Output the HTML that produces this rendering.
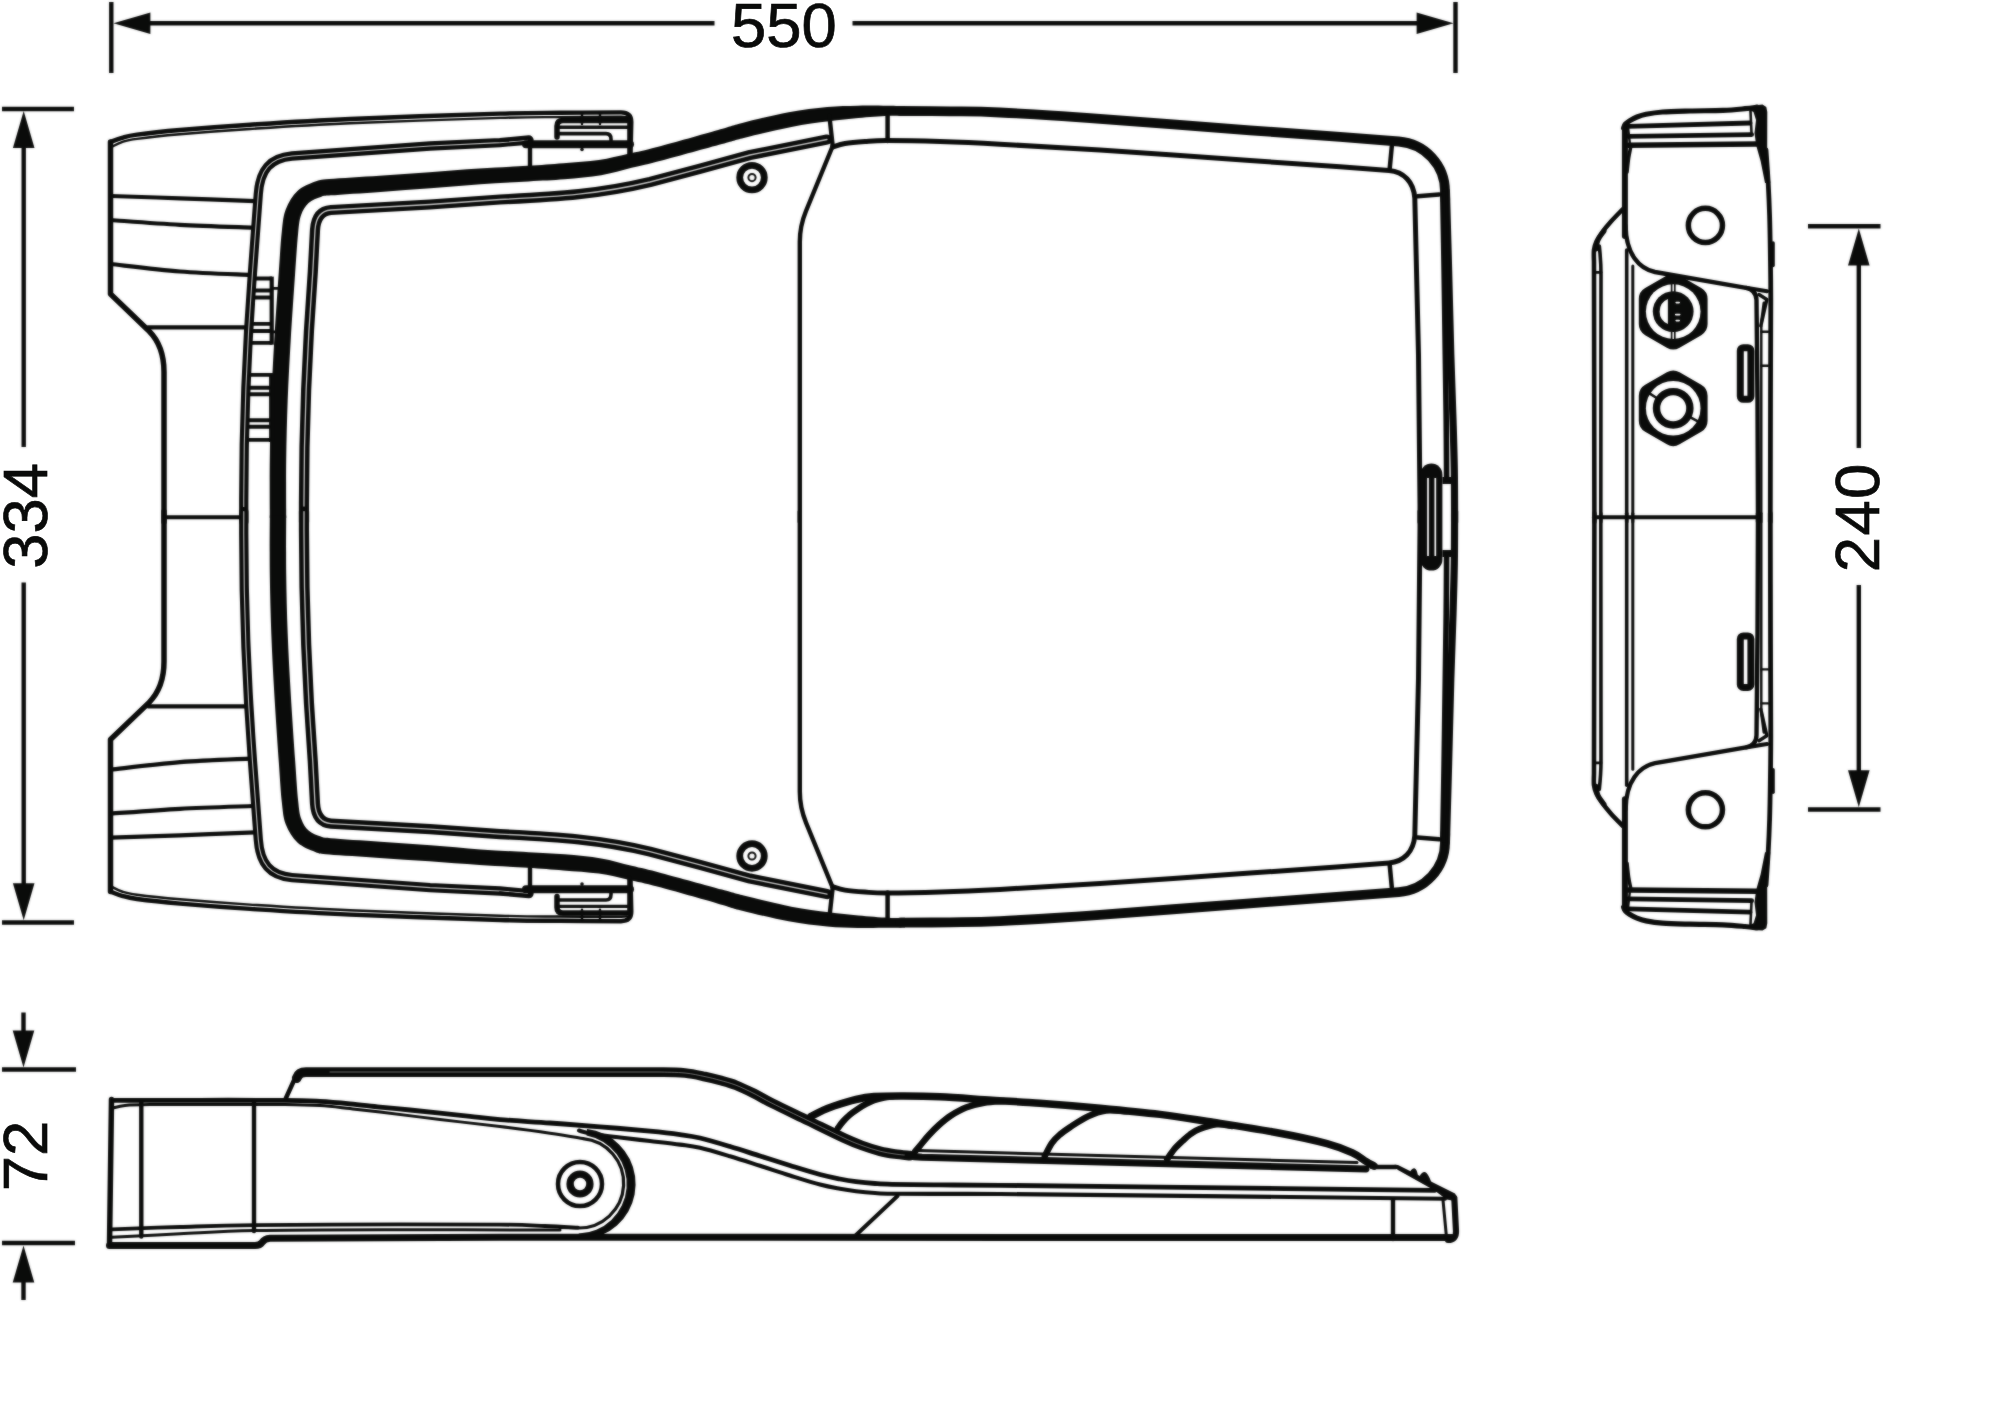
<!DOCTYPE html>
<html><head><meta charset="utf-8"><title>Dimension drawing</title>
<style>html,body{margin:0;padding:0;background:#fff;overflow:hidden;}svg{display:block;}.art{filter:blur(0.9px);}text{font-family:"Liberation Sans",sans-serif;fill:#0a0b0a;stroke:#0a0b0a;stroke-width:0.7px;}</style></head><body>
<svg width="2000" height="1421" viewBox="0 0 2000 1421">
<rect width="2000" height="1421" fill="#fff"/>
<g class="art" fill="none" stroke="#0a0b0a" stroke-linecap="round" stroke-linejoin="round">
<g stroke-width="4.4" stroke-linecap="butt">
<path d="M111.3,2 V73 M1455.5,2 V73 M150,23.3 H714.5 M852.5,23.3 H1417"/>
<path d="M2,109 H74 M2,922.5 H74 M23.7,146 V447 M23.7,582.5 V884"/>
<path d="M1808,226.3 H1880.5 M1808,809.5 H1880.5 M1858.8,264 V448 M1858.8,585 V772"/>
<path d="M2,1069.5 H76 M2,1243 H75 M23.5,1012.5 V1032 M23.5,1280 V1300"/>
</g>
<path d="M113.4,23.3 L150.4,34.1 L150.4,12.5Z" fill="#0a0b0a" stroke="none" />
<path d="M1453.6,23.3 L1416.6,12.5 L1416.6,34.1Z" fill="#0a0b0a" stroke="none" />
<path d="M23.7,111 L12.9,148 L34.5,148Z" fill="#0a0b0a" stroke="none" />
<path d="M23.7,920.3 L34.5,883.3 L12.9,883.3Z" fill="#0a0b0a" stroke="none" />
<path d="M1858.8,228.5 L1848,265.5 L1869.6,265.5Z" fill="#0a0b0a" stroke="none" />
<path d="M1858.8,807.3 L1869.6,770.3 L1848,770.3Z" fill="#0a0b0a" stroke="none" />
<path d="M23.5,1067.5 L34.3,1030.5 L12.7,1030.5Z" fill="#0a0b0a" stroke="none" />
<path d="M23.5,1245.5 L12.7,1282.5 L34.3,1282.5Z" fill="#0a0b0a" stroke="none" />
<path d="M164,522 L164,372 Q164,346 149,331 L110.5,294 L110.5,142" stroke-width="5.5" />
<path d="M110.5,142 C112.42,141.3 117.58,139.03 122,137.8 C126.42,136.57 127.33,135.9 137,134.6 C146.67,133.3 161.17,131.65 180,130 C198.83,128.35 221.67,126.53 250,124.7 C278.33,122.87 308.33,120.85 350,119 C391.67,117.15 465,114.63 500,113.6 C535,112.57 539.83,113 560,112.8 C580.17,112.6 610.83,112.47 621,112.4 Q631.3,112.4 631.3,122 L630.5,156" stroke-width="4.4" />
<path d="M111.5,147 C113.25,146.18 117.75,143.45 122,142.1 C126.25,140.75 127.33,140.2 137,138.9 C146.67,137.6 161.17,135.95 180,134.3 C198.83,132.65 221.67,130.83 250,129 C278.33,127.17 308.33,125.15 350,123.3 C391.67,121.45 465,118.93 500,117.9 C535,116.87 539.83,117.3 560,117.1 C580.17,116.9 610.83,116.77 621,116.7 L627,117.2" stroke-width="2.4" />
<path d="M111,196 C122.5,196.38 156,197.43 180,198.3 C204,199.17 242.5,200.72 255,201.2" stroke-width="4.2" />
<path d="M111,220 C122.5,220.8 156.33,223.53 180,224.8 C203.67,226.07 240.83,227.13 253,227.6" stroke-width="4.2" />
<path d="M111,264 C122.5,265.25 156.75,269.67 180,271.5 C203.25,273.33 238.75,274.42 250.5,275" stroke-width="4.2" />
<path d="M148,327.3 H247" stroke-width="4.2" />
<path d="M243.8,522 L243.8,518 C243.3,440 247,345 252.5,272 L258.3,194 C260,170 270,158 292,156 L430,146 L500,142.6 L529,140" stroke-width="9.3"/>
<path d="M243.8,522 L243.8,518 C243.3,440 247,345 252.5,272 L258.3,194 C260,170 270,158 292,156 L430,146 L500,142.6 L529,140" stroke-width="1.1" stroke="#c8c8c8"/>
<path d="M304,522 L304,518 C303.6,440 307,350 312.8,272 L315,230 Q316.2,211 331,210 L430,204.5 L500,199.5 C560,196.5 600,194 650,182 L700,168.7 L750,155 L827,139.5" stroke-width="10.2"/>
<path d="M304,522 L304,518 C303.6,440 307,350 312.8,272 L315,230 Q316.2,211 331,210 L430,204.5 L500,199.5 C560,196.5 600,194 650,182 L700,168.7 L750,155 L827,139.5" stroke-width="1.3" stroke="#c8c8c8"/>
<path d="M269.8,518 C269.8,508.32 269.55,479.61 269.8,459.9 C270.05,440.18 270.55,419.76 271.31,399.69 C272.06,379.63 273.06,360.9 274.31,339.52 C275.57,318.14 277.56,289.5 278.82,271.43 C280.08,253.36 280.68,241.5 281.85,231.12 C283.01,220.74 283.22,215.83 285.81,209.14 C288.41,202.46 292.53,195.58 297.43,190.98 C302.33,186.39 309.89,183.58 315.2,181.59 C320.51,179.6 318.57,180.01 329.28,179.03 C339.98,178.05 362.75,176.84 379.44,175.72 C396.13,174.6 412.74,173.51 429.41,172.32 C446.08,171.14 463.12,169.7 479.47,168.62 C495.82,167.53 513.54,166.73 527.52,165.81 C541.49,164.9 551.45,164.1 563.33,163.13 C575.21,162.16 587.96,161.55 598.8,159.99 C609.64,158.44 618.47,156 628.36,153.79 C638.26,151.58 643.24,150.71 658.18,146.74 C673.13,142.77 704.04,133.94 718.04,129.97 C732.04,126 730.43,125.88 742.19,122.92 C753.95,119.97 774.43,114.88 788.6,112.23 C802.76,109.59 815.68,108.13 827.19,107.05 C838.7,105.96 847.53,105.92 857.65,105.71 C867.77,105.5 880,105.72 887.9,105.8 C895.81,105.88 902.2,106.13 905.06,106.2 L904.94,115.8 C902.14,115.8 895.86,115.42 888.1,115.8 C880.33,116.18 868.23,117.16 858.35,118.09 C848.47,119.02 839.97,119.87 828.81,121.35 C817.65,122.83 805.24,124.28 791.4,126.97 C777.57,129.65 757.38,134.63 745.81,137.48 C734.24,140.32 735.96,140.2 721.96,144.03 C707.96,147.86 676.87,156.5 661.82,160.46 C646.76,164.43 641.74,165.35 631.64,167.81 C621.53,170.27 612.36,173.3 601.2,175.21 C590.04,177.12 576.79,178.24 564.67,179.27 C552.55,180.3 542.51,180.57 528.48,181.39 C514.46,182.2 496.85,183.03 480.53,184.18 C464.22,185.33 447.25,187 430.59,188.28 C413.93,189.56 397.2,190.7 380.56,191.88 C363.91,193.06 340.68,194.51 330.72,195.37 C320.76,196.22 324.49,195.73 320.8,197.01 C317.11,198.28 311.84,200.04 308.57,203.02 C305.3,205.99 302.92,209.88 301.19,214.86 C299.45,219.83 299.15,223.26 298.15,232.88 C297.15,242.5 296.42,254.64 295.18,272.57 C293.94,290.5 291.93,319.19 290.69,340.48 C289.44,361.77 288.44,380.37 287.69,400.31 C286.95,420.24 286.45,440.49 286.2,460.1 C285.95,479.72 286.2,508.35 286.2,518 Z" fill="#0a0b0a" stroke="none" />
<path d="M900,111 C908.33,111.05 933.33,111.05 950,111.3 C966.67,111.55 975,111.25 1000,112.5 C1025,113.75 1058.33,115.83 1100,118.8 C1141.67,121.77 1210,127.28 1250,130.3 C1290,133.32 1315.21,135.03 1340,136.9 C1364.79,138.77 1388.96,140.73 1398.75,141.5 A50,50 0 0 1 1445,191.4 L1445.2,200" stroke-width="9.8" />
<path d="M1446.4,191.4 C1446.77,204.5 1447.87,242.73 1448.6,270 C1449.33,297.27 1450.07,330 1450.8,355 C1451.53,380 1452.42,400.83 1453,420 C1453.58,439.17 1454.03,453 1454.3,470 C1454.57,487 1454.55,513.33 1454.6,522" stroke-width="7.2" />
<path d="M1442.7,191.4 C1442.93,204.5 1443.67,242.73 1444.1,270 C1444.53,297.27 1444.95,330 1445.3,355 C1445.65,380 1445.98,399.5 1446.2,420 C1446.42,440.5 1446.53,468.33 1446.6,478" stroke-width="5.6" stroke-linecap="butt"/>
<path d="M832.5,147 C834.58,146.42 839.58,144.42 845,143.5 C850.42,142.58 858,141.98 865,141.5 C872,141.02 874.5,140.58 887,140.6 C899.5,140.62 921.17,141 940,141.6 C958.83,142.2 973.33,142.8 1000,144.2 C1026.67,145.6 1058.33,147.28 1100,150 C1141.67,152.72 1210,157.7 1250,160.5 C1290,163.3 1316.83,165.12 1340,166.8 C1363.17,168.48 1380.83,169.97 1389,170.6 C1404,172 1413.5,182 1414.8,198 L1418.5,355 L1420,505 L1420,522" stroke-width="5" />
<path d="M829.4,116 L832.7,146 L806,211 Q799.8,226 799.8,242 L799.8,522" stroke-width="4.4" />
<path d="M887.6,114 V141" stroke-width="4.5" />
<path d="M1391.8,146.4 L1389.7,168.6" stroke-width="4.5" />
<path d="M1417.6,196.2 L1439,194.4" stroke-width="4.5" />
<circle cx="752" cy="177.6" r="12.3" stroke-width="6.8"/>
<circle cx="752" cy="177.6" r="3.6" stroke-width="2"/>
<path d="M557,137 V126 Q557,120.5 563,120.5 H629" stroke-width="5.5" />
<path d="M559,127.2 H629" stroke-width="3.4" />
<path d="M559,133.6 H606 Q611,133.6 611,139 V141" stroke-width="3.6" />
<path d="M526,144.3 H630" stroke-width="8" />
<path d="M500,141 L527,138.6" stroke-width="2.6" />
<path d="M530,140 V167" stroke-width="4.4" />
<path d="M629.3,120 V156" stroke-width="4.2" />
<path d="M582,113 V124 M600,113 V124" stroke-width="2.4" />
<circle cx="582" cy="149.5" r="1.8" fill="#0a0b0a" stroke="none"/>
<g transform="translate(0,1033.6) scale(1,-1)">
<path d="M164,522 L164,372 Q164,346 149,331 L110.5,294 L110.5,142" stroke-width="5.5" />
<path d="M110.5,142 C112.42,141.3 117.58,139.03 122,137.8 C126.42,136.57 127.33,135.9 137,134.6 C146.67,133.3 161.17,131.65 180,130 C198.83,128.35 221.67,126.53 250,124.7 C278.33,122.87 308.33,120.85 350,119 C391.67,117.15 465,114.63 500,113.6 C535,112.57 539.83,113 560,112.8 C580.17,112.6 610.83,112.47 621,112.4 Q631.3,112.4 631.3,122 L630.5,156" stroke-width="4.4" />
<path d="M111.5,147 C113.25,146.18 117.75,143.45 122,142.1 C126.25,140.75 127.33,140.2 137,138.9 C146.67,137.6 161.17,135.95 180,134.3 C198.83,132.65 221.67,130.83 250,129 C278.33,127.17 308.33,125.15 350,123.3 C391.67,121.45 465,118.93 500,117.9 C535,116.87 539.83,117.3 560,117.1 C580.17,116.9 610.83,116.77 621,116.7 L627,117.2" stroke-width="2.4" />
<path d="M111,196 C122.5,196.38 156,197.43 180,198.3 C204,199.17 242.5,200.72 255,201.2" stroke-width="4.2" />
<path d="M111,220 C122.5,220.8 156.33,223.53 180,224.8 C203.67,226.07 240.83,227.13 253,227.6" stroke-width="4.2" />
<path d="M111,264 C122.5,265.25 156.75,269.67 180,271.5 C203.25,273.33 238.75,274.42 250.5,275" stroke-width="4.2" />
<path d="M148,327.3 H247" stroke-width="4.2" />
<path d="M243.8,522 L243.8,518 C243.3,440 247,345 252.5,272 L258.3,194 C260,170 270,158 292,156 L430,146 L500,142.6 L529,140" stroke-width="9.3"/>
<path d="M243.8,522 L243.8,518 C243.3,440 247,345 252.5,272 L258.3,194 C260,170 270,158 292,156 L430,146 L500,142.6 L529,140" stroke-width="1.1" stroke="#c8c8c8"/>
<path d="M304,522 L304,518 C303.6,440 307,350 312.8,272 L315,230 Q316.2,211 331,210 L430,204.5 L500,199.5 C560,196.5 600,194 650,182 L700,168.7 L750,155 L827,139.5" stroke-width="10.2"/>
<path d="M304,522 L304,518 C303.6,440 307,350 312.8,272 L315,230 Q316.2,211 331,210 L430,204.5 L500,199.5 C560,196.5 600,194 650,182 L700,168.7 L750,155 L827,139.5" stroke-width="1.3" stroke="#c8c8c8"/>
<path d="M269.8,518 C269.8,508.32 269.55,479.61 269.8,459.9 C270.05,440.18 270.55,419.76 271.31,399.69 C272.06,379.63 273.06,360.9 274.31,339.52 C275.57,318.14 277.56,289.5 278.82,271.43 C280.08,253.36 280.68,241.5 281.85,231.12 C283.01,220.74 283.22,215.83 285.81,209.14 C288.41,202.46 292.53,195.58 297.43,190.98 C302.33,186.39 309.89,183.58 315.2,181.59 C320.51,179.6 318.57,180.01 329.28,179.03 C339.98,178.05 362.75,176.84 379.44,175.72 C396.13,174.6 412.74,173.51 429.41,172.32 C446.08,171.14 463.12,169.7 479.47,168.62 C495.82,167.53 513.54,166.73 527.52,165.81 C541.49,164.9 551.45,164.1 563.33,163.13 C575.21,162.16 587.96,161.55 598.8,159.99 C609.64,158.44 618.47,156 628.36,153.79 C638.26,151.58 643.24,150.71 658.18,146.74 C673.13,142.77 704.04,133.94 718.04,129.97 C732.04,126 730.43,125.88 742.19,122.92 C753.95,119.97 774.43,114.88 788.6,112.23 C802.76,109.59 815.68,108.13 827.19,107.05 C838.7,105.96 847.53,105.92 857.65,105.71 C867.77,105.5 880,105.72 887.9,105.8 C895.81,105.88 902.2,106.13 905.06,106.2 L904.94,115.8 C902.14,115.8 895.86,115.42 888.1,115.8 C880.33,116.18 868.23,117.16 858.35,118.09 C848.47,119.02 839.97,119.87 828.81,121.35 C817.65,122.83 805.24,124.28 791.4,126.97 C777.57,129.65 757.38,134.63 745.81,137.48 C734.24,140.32 735.96,140.2 721.96,144.03 C707.96,147.86 676.87,156.5 661.82,160.46 C646.76,164.43 641.74,165.35 631.64,167.81 C621.53,170.27 612.36,173.3 601.2,175.21 C590.04,177.12 576.79,178.24 564.67,179.27 C552.55,180.3 542.51,180.57 528.48,181.39 C514.46,182.2 496.85,183.03 480.53,184.18 C464.22,185.33 447.25,187 430.59,188.28 C413.93,189.56 397.2,190.7 380.56,191.88 C363.91,193.06 340.68,194.51 330.72,195.37 C320.76,196.22 324.49,195.73 320.8,197.01 C317.11,198.28 311.84,200.04 308.57,203.02 C305.3,205.99 302.92,209.88 301.19,214.86 C299.45,219.83 299.15,223.26 298.15,232.88 C297.15,242.5 296.42,254.64 295.18,272.57 C293.94,290.5 291.93,319.19 290.69,340.48 C289.44,361.77 288.44,380.37 287.69,400.31 C286.95,420.24 286.45,440.49 286.2,460.1 C285.95,479.72 286.2,508.35 286.2,518 Z" fill="#0a0b0a" stroke="none" />
<path d="M900,111 C908.33,111.05 933.33,111.05 950,111.3 C966.67,111.55 975,111.25 1000,112.5 C1025,113.75 1058.33,115.83 1100,118.8 C1141.67,121.77 1210,127.28 1250,130.3 C1290,133.32 1315.21,135.03 1340,136.9 C1364.79,138.77 1388.96,140.73 1398.75,141.5 A50,50 0 0 1 1445,191.4 L1445.2,200" stroke-width="9.8" />
<path d="M1446.4,191.4 C1446.77,204.5 1447.87,242.73 1448.6,270 C1449.33,297.27 1450.07,330 1450.8,355 C1451.53,380 1452.42,400.83 1453,420 C1453.58,439.17 1454.03,453 1454.3,470 C1454.57,487 1454.55,513.33 1454.6,522" stroke-width="7.2" />
<path d="M1442.7,191.4 C1442.93,204.5 1443.67,242.73 1444.1,270 C1444.53,297.27 1444.95,330 1445.3,355 C1445.65,380 1445.98,399.5 1446.2,420 C1446.42,440.5 1446.53,468.33 1446.6,478" stroke-width="5.6" stroke-linecap="butt"/>
<path d="M832.5,147 C834.58,146.42 839.58,144.42 845,143.5 C850.42,142.58 858,141.98 865,141.5 C872,141.02 874.5,140.58 887,140.6 C899.5,140.62 921.17,141 940,141.6 C958.83,142.2 973.33,142.8 1000,144.2 C1026.67,145.6 1058.33,147.28 1100,150 C1141.67,152.72 1210,157.7 1250,160.5 C1290,163.3 1316.83,165.12 1340,166.8 C1363.17,168.48 1380.83,169.97 1389,170.6 C1404,172 1413.5,182 1414.8,198 L1418.5,355 L1420,505 L1420,522" stroke-width="5" />
<path d="M829.4,116 L832.7,146 L806,211 Q799.8,226 799.8,242 L799.8,522" stroke-width="4.4" />
<path d="M887.6,114 V141" stroke-width="4.5" />
<path d="M1391.8,146.4 L1389.7,168.6" stroke-width="4.5" />
<path d="M1417.6,196.2 L1439,194.4" stroke-width="4.5" />
<circle cx="752" cy="177.6" r="12.3" stroke-width="6.8"/>
<circle cx="752" cy="177.6" r="3.6" stroke-width="2"/>
<path d="M557,137 V126 Q557,120.5 563,120.5 H629" stroke-width="5.5" />
<path d="M559,127.2 H629" stroke-width="3.4" />
<path d="M559,133.6 H606 Q611,133.6 611,139 V141" stroke-width="3.6" />
<path d="M526,144.3 H630" stroke-width="8" />
<path d="M500,141 L527,138.6" stroke-width="2.6" />
<path d="M530,140 V167" stroke-width="4.4" />
<path d="M629.3,120 V156" stroke-width="4.2" />
<path d="M582,113 V124 M600,113 V124" stroke-width="2.4" />
<circle cx="582" cy="149.5" r="1.8" fill="#0a0b0a" stroke="none"/>
</g>
<path d="M164,517.3 H240" stroke-width="4" />
<path d="M250,374.9 H272 M250,387.8 H272 M250,394.2 H272 M249,420.3 H272 M249,426.8 H272 M248.5,439.9 H272" stroke-width="3.9" stroke-linecap="butt"/>
<path d="M271.6,373 V442" stroke-width="5" stroke-linecap="butt"/>
<path d="M255.5,278.5 H272 M255,290.5 H272 M254.5,297.5 H272 M253,323.9 H272 M252.5,331 H272 M252,342.8 H272" stroke-width="3.8" stroke-linecap="butt"/>
<path d="M271.7,276.6 V344.7" stroke-width="4.2" stroke-linecap="butt"/>
<path d="M273,288.3 H280 M273,331.8 H277" stroke-width="2.8" stroke-linecap="butt"/>
<rect x="1420.4" y="463.6" width="22" height="107" rx="11" ry="11" fill="#0a0b0a" stroke="none"/>
<path d="M1428,478 V556 M1435.3,478 V556" stroke="#fff" stroke-width="1.7" stroke-linecap="butt"/>
<path d="M1442.4,480.5 H1457.6 M1442.4,553.4 H1457.6" stroke-width="7" stroke-linecap="butt"/>
<path d="M1623.6,128 C1623.92,127.33 1624.52,125.18 1625.5,124 C1626.48,122.82 1627.58,122.07 1629.5,120.9 C1631.42,119.73 1634.25,118.1 1637,117 C1639.75,115.9 1641.75,115.13 1646,114.3 C1650.25,113.47 1655.17,112.55 1662.5,112 C1669.83,111.45 1679.92,111.27 1690,111 C1700.08,110.73 1713.83,110.78 1723,110.4 C1732.17,110.02 1739.33,109.23 1745,108.7 C1750.67,108.17 1755,107.45 1757,107.2" stroke-width="5.2" />
<path d="M1624.9,127 V236" stroke-width="6" />
<path d="M1626.7,250 V522" stroke-width="3.6" />
<path d="M1628.5,126.4 L1750,123" stroke-width="4.8" />
<path d="M1628.5,136.3 L1751.6,134.6" stroke-width="4.8" />
<path d="M1628.5,145.2 L1756,144" stroke-width="5.6" />
<path d="M1628,127 L1630,145" stroke-width="2.4" />
<path d="M1748.5,109.6 L1758,105 L1762.5,104.6 L1766.3,107 L1767.3,112 L1767.2,150 L1770.3,183 L1765,183 L1760.6,161 L1756.2,145.5 L1754.5,133 L1756,120 L1753.5,112Z" fill="#0a0b0a" stroke="none" />
<path d="M1750.5,111 L1751.5,133" stroke-width="2.6" />
<path d="M1766,150 C1766.37,155.5 1767.6,172 1768.2,183 C1768.8,194 1769.25,204.67 1769.6,216 C1769.95,227.33 1770.1,237 1770.3,251 C1770.5,265 1770.77,275.17 1770.8,300 C1770.83,324.83 1770.58,363 1770.5,400 C1770.42,437 1770.33,501.67 1770.3,522" stroke-width="4.8" />
<path d="M1630.6,147.5 C1630.27,149.25 1629.2,153.92 1628.6,158 C1628,162.08 1627.27,169.67 1627,172" stroke-width="3.6" />
<path d="M1625.6,226 C1626,254 1639,268.5 1655,272 L1746,287.8 Q1756.3,290 1756.5,300 L1757.5,400 L1758,522" stroke-width="4.4" />
<path d="M1746,287.8 L1767,291.2" stroke-width="4.2" />
<path d="M1759,294.5 L1766.8,299.5 L1760.8,326" stroke-width="3.4" />
<path d="M1764,303 L1761.5,322" stroke-width="3" />
<path d="M1761.3,326 V522" stroke-width="2.4" />
<path d="M1761.3,331.8 H1768 M1761.3,365.8 H1768" stroke-width="2.4" />
<circle cx="1705.4" cy="225.4" r="17.05" stroke-width="5.5"/>
<path d="M1622.5,209.5 C1620.58,211.5 1614.42,217.67 1611,221.5 C1607.58,225.33 1604.42,229.17 1602,232.5 C1599.58,235.83 1597.83,238.58 1596.5,241.5 C1595.17,244.42 1594.42,246.58 1594,250 C1593.58,253.42 1594,260 1594,262 L1594.4,522" stroke-width="4.6" />
<path d="M1604,231 C1603,232.5 1599.33,237 1598,240 C1596.67,243 1596.33,247.5 1596,249" stroke-width="5" />
<path d="M1599.3,246 Q1601,262 1601,274 L1600.8,522" stroke-width="3.6" />
<path d="M1594,272.3 H1601" stroke-width="2.8" />
<path d="M1632.8,266 V522" stroke-width="3" />
<path d="M1773,243 V265.5" stroke-width="3.6" />
<rect x="1740.3" y="347.7" width="10.6" height="51.6" rx="3" stroke-width="7"/>
<g transform="translate(0,1035.2) scale(1,-1)">
<path d="M1623.6,128 C1623.92,127.33 1624.52,125.18 1625.5,124 C1626.48,122.82 1627.58,122.07 1629.5,120.9 C1631.42,119.73 1634.25,118.1 1637,117 C1639.75,115.9 1641.75,115.13 1646,114.3 C1650.25,113.47 1655.17,112.55 1662.5,112 C1669.83,111.45 1679.92,111.27 1690,111 C1700.08,110.73 1713.83,110.78 1723,110.4 C1732.17,110.02 1739.33,109.23 1745,108.7 C1750.67,108.17 1755,107.45 1757,107.2" stroke-width="5.2" />
<path d="M1624.9,127 V236" stroke-width="6" />
<path d="M1626.7,250 V522" stroke-width="3.6" />
<path d="M1628.5,126.4 L1750,123" stroke-width="4.8" />
<path d="M1628.5,136.3 L1751.6,134.6" stroke-width="4.8" />
<path d="M1628.5,145.2 L1756,144" stroke-width="5.6" />
<path d="M1628,127 L1630,145" stroke-width="2.4" />
<path d="M1748.5,109.6 L1758,105 L1762.5,104.6 L1766.3,107 L1767.3,112 L1767.2,150 L1770.3,183 L1765,183 L1760.6,161 L1756.2,145.5 L1754.5,133 L1756,120 L1753.5,112Z" fill="#0a0b0a" stroke="none" />
<path d="M1750.5,111 L1751.5,133" stroke-width="2.6" />
<path d="M1766,150 C1766.37,155.5 1767.6,172 1768.2,183 C1768.8,194 1769.25,204.67 1769.6,216 C1769.95,227.33 1770.1,237 1770.3,251 C1770.5,265 1770.77,275.17 1770.8,300 C1770.83,324.83 1770.58,363 1770.5,400 C1770.42,437 1770.33,501.67 1770.3,522" stroke-width="4.8" />
<path d="M1630.6,147.5 C1630.27,149.25 1629.2,153.92 1628.6,158 C1628,162.08 1627.27,169.67 1627,172" stroke-width="3.6" />
<path d="M1625.6,226 C1626,254 1639,268.5 1655,272 L1746,287.8 Q1756.3,290 1756.5,300 L1757.5,400 L1758,522" stroke-width="4.4" />
<path d="M1746,287.8 L1767,291.2" stroke-width="4.2" />
<path d="M1759,294.5 L1766.8,299.5 L1760.8,326" stroke-width="3.4" />
<path d="M1764,303 L1761.5,322" stroke-width="3" />
<path d="M1761.3,326 V522" stroke-width="2.4" />
<path d="M1761.3,331.8 H1768 M1761.3,365.8 H1768" stroke-width="2.4" />
<circle cx="1705.4" cy="225.4" r="17.05" stroke-width="5.5"/>
<path d="M1622.5,209.5 C1620.58,211.5 1614.42,217.67 1611,221.5 C1607.58,225.33 1604.42,229.17 1602,232.5 C1599.58,235.83 1597.83,238.58 1596.5,241.5 C1595.17,244.42 1594.42,246.58 1594,250 C1593.58,253.42 1594,260 1594,262 L1594.4,522" stroke-width="4.6" />
<path d="M1604,231 C1603,232.5 1599.33,237 1598,240 C1596.67,243 1596.33,247.5 1596,249" stroke-width="5" />
<path d="M1599.3,246 Q1601,262 1601,274 L1600.8,522" stroke-width="3.6" />
<path d="M1594,272.3 H1601" stroke-width="2.8" />
<path d="M1632.8,266 V522" stroke-width="3" />
<path d="M1773,243 V265.5" stroke-width="3.6" />
<rect x="1740.3" y="347.7" width="10.6" height="51.6" rx="3" stroke-width="7"/>
</g>
<path d="M1594,517.3 H1757.5" stroke-width="4" />
<path d="M1673.2,286.6 L1651.55,299.1 L1651.55,324.1 L1673.2,336.6 L1694.85,324.1 L1694.85,299.1Z" fill="#0a0b0a" stroke="#0a0b0a" stroke-width="25.5" stroke-linejoin="round"/>
<circle cx="1673.2" cy="311.6" r="27.3" fill="#fff" stroke="none"/>
<circle cx="1673.2" cy="311.6" r="20.4" fill="#0a0b0a" stroke="none"/>
<path d="M1667.9,299.1 A13.6,13.6 0 0 0 1667.9,324.1 Z" fill="#fff" stroke="none"/>
<path d="M1671.6,284.1 V339.1 M1674.8,284.1 V339.1" stroke-width="1.7"/>
<path d="M1676.2,302.6 h3 M1675.7,314.6 h4 M1676.2,320.6 h3" stroke="#fff" stroke-width="1.6"/>
<path d="M1673.2,383.3 L1651.55,395.8 L1651.55,420.8 L1673.2,433.3 L1694.85,420.8 L1694.85,395.8Z" fill="#0a0b0a" stroke="#0a0b0a" stroke-width="25.5" stroke-linejoin="round"/>
<circle cx="1673.2" cy="408.3" r="27.3" fill="#fff" stroke="none"/>
<circle cx="1673.2" cy="408.3" r="16.7" stroke-width="7.4"/>
<path d="M1657.09,398.23 L1649.03,393.2" stroke-width="2.6"/>
<path d="M1689.98,417.22 L1698.36,421.68" stroke-width="2.6"/>
<path d="M111.5,1099.5 L109.5,1245.5" stroke-width="5.5" />
<path d="M111.5,1100.3 C126.25,1100.3 171.08,1100.3 200,1100.3 C228.92,1100.3 265,1100.12 285,1100.3 C305,1100.48 309.17,1100.82 320,1101.4 C330.83,1101.98 340,1102.85 350,1103.8 C360,1104.75 370,1106.07 380,1107.1 C390,1108.13 400,1109 410,1110 C420,1111 430,1112.03 440,1113.1 C450,1114.17 460,1115.32 470,1116.4 C480,1117.48 486.67,1118.5 500,1119.6 C513.33,1120.7 533.33,1121.8 550,1123 C566.67,1124.2 583.33,1125.43 600,1126.8 C616.67,1128.17 636.67,1129.9 650,1131.2 C663.33,1132.5 671.67,1133.47 680,1134.6 C688.33,1135.73 691.67,1136.02 700,1138 C708.33,1139.98 720,1143.5 730,1146.5 C740,1149.5 750,1152.83 760,1156 C770,1159.17 780,1162.42 790,1165.5 C800,1168.58 811.67,1172.25 820,1174.5 C828.33,1176.75 834,1177.82 840,1179 C846,1180.18 850.17,1180.85 856,1181.6 C861.83,1182.35 869,1183.05 875,1183.5 C881,1183.95 881.17,1184.07 892,1184.3 C902.83,1184.53 922,1184.73 940,1184.9 C958,1185.07 963.33,1184.92 1000,1185.3 C1036.67,1185.68 1087.5,1186.37 1160,1187.2 C1232.5,1188.03 1389.17,1189.78 1435,1190.3" stroke-width="4.8" />
<path d="M113,1108 C115,1107.58 118.83,1106.07 125,1105.5 C131.17,1104.93 137.5,1104.75 150,1104.6 C162.5,1104.45 177.5,1104.6 200,1104.6 C222.5,1104.6 265,1104.43 285,1104.6 C305,1104.77 309.17,1104.93 320,1105.6 C330.83,1106.27 340,1107.53 350,1108.6 C360,1109.67 365,1110.18 380,1112 C395,1113.82 420,1117.08 440,1119.5 C460,1121.92 481.67,1124.22 500,1126.5 C518.33,1128.78 536.17,1131.18 550,1133.2 C563.83,1135.22 577.5,1137.7 583,1138.6" stroke-width="3" />
<path d="M141.3,1101 V1236.5" stroke-width="4.4" />
<path d="M254,1101 V1231" stroke-width="4.4" />
<path d="M109.5,1245.5 H255 Q260,1245.5 262,1242.5 Q264.5,1238.6 270,1238.2 L500,1237.3 L1452,1237.5" stroke-width="7" />
<path d="M112,1229.3 C123.33,1228.92 156.17,1227.68 180,1227 C203.83,1226.32 218.33,1225.65 255,1225.2 C291.67,1224.75 359.17,1224.4 400,1224.3 C440.83,1224.2 475.83,1224.32 500,1224.6 C524.17,1224.88 532,1225.5 545,1226 C558,1226.5 572.5,1227.33 578,1227.6" stroke-width="3.8" />
<path d="M112,1237.2 C123.33,1236.63 156.17,1234.9 180,1233.8 C203.83,1232.7 218.33,1231.27 255,1230.6 C291.67,1229.93 349.17,1229.9 400,1229.8 C450.83,1229.7 533.33,1229.97 560,1230" stroke-width="3" />
<path d="M285.8,1098.4 L296,1076" stroke-width="4.6" />
<path d="M296.8,1078 Q298.8,1072.2 306,1072.2 L660,1072.2 C664.17,1072.17 677.5,1072.23 685,1073 C692.5,1073.77 699.17,1075.38 705,1076.6 C710.83,1077.82 714.83,1078.87 720,1080.3 C725.17,1081.73 730.33,1083 736,1085.2 C741.67,1087.4 748,1090.5 754,1093.5 C760,1096.5 763,1098.68 772,1103.2 C781,1107.72 796,1114.8 808,1120.6 C820,1126.4 835,1133.85 844,1138 C853,1142.15 856,1143.3 862,1145.5 C868,1147.7 874.5,1149.78 880,1151.2 C885.5,1152.62 890,1153.27 895,1154 C900,1154.73 907.5,1155.33 910,1155.6" stroke-width="9.8"/>
<path d="M330,1072 L660,1072 C664.17,1072.17 677.5,1072.23 685,1073 C692.5,1073.77 699.17,1075.38 705,1076.6 C710.83,1077.82 714.83,1078.87 720,1080.3 C725.17,1081.73 730.33,1083 736,1085.2 C741.67,1087.4 748,1090.5 754,1093.5 C760,1096.5 763,1098.68 772,1103.2 C781,1107.72 796,1114.8 808,1120.6 C820,1126.4 835,1133.85 844,1138 C853,1142.15 856,1143.3 862,1145.5 C868,1147.7 874.5,1149.78 880,1151.2 C885.5,1152.62 890,1153.27 895,1154 C900,1154.73 907.5,1155.33 910,1155.6" stroke-width="0.7" stroke="#9a9a9a"/>
<path d="M908,1155.8 Q914,1156.8 922,1157.3 L1366,1169" stroke-width="7" />
<path d="M918,1150.6 L1357,1162.6" stroke-width="3" />
<path d="M579,1130.6 C581.17,1131.12 585.17,1132.55 592,1133.7 C598.83,1134.85 610.33,1136.28 620,1137.5 C629.67,1138.72 640,1139.82 650,1141 C660,1142.18 671.67,1143.47 680,1144.6 C688.33,1145.73 691.67,1145.85 700,1147.8 C708.33,1149.75 720,1153.3 730,1156.3 C740,1159.3 750,1162.6 760,1165.8 C770,1169 780,1172.37 790,1175.5 C800,1178.63 811.67,1182.38 820,1184.6 C828.33,1186.82 834,1187.7 840,1188.8 C846,1189.9 850.17,1190.5 856,1191.2 C861.83,1191.9 869,1192.58 875,1193 C881,1193.42 881.17,1193.55 892,1193.7 C902.83,1193.85 922,1193.85 940,1193.9 C958,1193.95 963.33,1193.72 1000,1194 C1036.67,1194.28 1085.83,1194.8 1160,1195.6 C1234.17,1196.4 1397.5,1198.27 1445,1198.8" stroke-width="4.1" />
<path d="M587,1128.9 A55.5,55.5 0 0 1 601.7,1235.1 L578.7,1235 L578.7,1233.5 A49.5,49.5 0 0 0 586.5,1135.4 Z" fill="#0a0b0a" stroke="none" />
<path d="M583,1138.6 A44.8,44.8 0 0 1 578,1228 L560,1227.4" stroke-width="3.2" />
<circle cx="580" cy="1184" r="22" stroke-width="4.5"/>
<circle cx="580" cy="1184" r="9.9" stroke-width="7.4"/>
<path d="M855,1236 L897.5,1196" stroke-width="4" />
<path d="M811,1116.4 C812.83,1115.47 818.17,1112.53 822,1110.8 C825.83,1109.07 828.33,1107.88 834,1106 C839.67,1104.12 849.33,1101.07 856,1099.5 C862.67,1097.93 866,1097.18 874,1096.6 C882,1096.02 893,1095.97 904,1096 C915,1096.03 925.33,1096.1 940,1096.8 C954.67,1097.5 975.33,1099.13 992,1100.2 C1008.67,1101.27 1022,1101.87 1040,1103.2 C1058,1104.53 1080,1106.33 1100,1108.2 C1120,1110.07 1142,1112.18 1160,1114.4 C1178,1116.62 1188.67,1118.48 1208,1121.5 C1227.33,1124.52 1256.17,1128.82 1276,1132.5 C1295.83,1136.18 1314.25,1140.2 1327,1143.6 C1339.75,1147 1346,1149.93 1352.5,1152.9 C1359,1155.87 1362.42,1159.22 1366,1161.4 C1369.58,1163.58 1372.67,1165.23 1374,1166" stroke-width="7.5" />
<path d="M838,1128 C838.83,1126.92 841,1123.73 843,1121.5 C845,1119.27 847.5,1116.72 850,1114.6 C852.5,1112.48 855.33,1110.57 858,1108.8 C860.67,1107.03 863.33,1105.42 866,1104 C868.67,1102.58 871,1101.37 874,1100.3 C877,1099.23 880.83,1098.27 884,1097.6 C887.17,1096.93 891.5,1096.52 893,1096.3" stroke-width="6.4" />
<path d="M915,1151.5 C916,1150.33 918.67,1147.25 921,1144.5 C923.33,1141.75 926,1138.25 929,1135 C932,1131.75 935.33,1128.25 939,1125 C942.67,1121.75 946.5,1118.42 951,1115.5 C955.5,1112.58 960.5,1109.62 966,1107.5 C971.5,1105.38 977.67,1103.88 984,1102.8 C990.33,1101.72 1000.67,1101.3 1004,1101" stroke-width="6.4" />
<path d="M1044.8,1156 C1046,1153.8 1049.47,1146.38 1052,1142.8 C1054.53,1139.22 1057,1137.1 1060,1134.5 C1063,1131.9 1065.33,1130.22 1070,1127.2 C1074.67,1124.18 1082,1119.17 1088,1116.4 C1094,1113.63 1099.67,1111.45 1106,1110.6 C1112.33,1109.75 1122.67,1111.18 1126,1111.3" stroke-width="6.4" />
<path d="M1167.2,1159 C1168.33,1157.42 1171.45,1152.5 1174,1149.5 C1176.55,1146.5 1179.83,1143.5 1182.5,1141 C1185.17,1138.5 1187.17,1136.48 1190,1134.5 C1192.83,1132.52 1195.08,1130.78 1199.5,1129.1 C1203.92,1127.42 1211.08,1124.92 1216.5,1124.4 C1221.92,1123.88 1229.42,1125.73 1232,1126" stroke-width="6.4" />
<path d="M1372,1167 H1396" stroke-width="4.6" />
<path d="M1394.5,1164.8 L1398,1164.9 L1455,1193.4 L1457.3,1197.5 L1452,1200.6 L1446.5,1199.4 L1434.6,1190.6 L1397.5,1169.8 Z" fill="#0a0b0a" stroke="none" />
<path d="M1410,1172 Q1412,1168 1414.8,1168.4 Q1417,1169 1418,1176 Z M1419.5,1176.5 Q1421.6,1171.6 1425,1172 Q1428,1173 1431.5,1182.5 Z" fill="#0a0b0a" stroke="none" />
<path d="M1454.3,1198 L1456,1231 Q1456.4,1239.8 1448,1240" stroke-width="6.2" />
<path d="M1393,1200.5 V1239" stroke-width="4.4" />
<path d="M1443,1200 L1446.6,1238.5" stroke-width="3" />
</g>
<g opacity="0.5"><rect width="2000" height="1421" fill="#fff"/><g fill="none" stroke="#0a0b0a" stroke-linecap="round" stroke-linejoin="round">
<g stroke-width="4.4" stroke-linecap="butt">
<path d="M111.3,2 V73 M1455.5,2 V73 M150,23.3 H714.5 M852.5,23.3 H1417"/>
<path d="M2,109 H74 M2,922.5 H74 M23.7,146 V447 M23.7,582.5 V884"/>
<path d="M1808,226.3 H1880.5 M1808,809.5 H1880.5 M1858.8,264 V448 M1858.8,585 V772"/>
<path d="M2,1069.5 H76 M2,1243 H75 M23.5,1012.5 V1032 M23.5,1280 V1300"/>
</g>
<path d="M113.4,23.3 L150.4,34.1 L150.4,12.5Z" fill="#0a0b0a" stroke="none" />
<path d="M1453.6,23.3 L1416.6,12.5 L1416.6,34.1Z" fill="#0a0b0a" stroke="none" />
<path d="M23.7,111 L12.9,148 L34.5,148Z" fill="#0a0b0a" stroke="none" />
<path d="M23.7,920.3 L34.5,883.3 L12.9,883.3Z" fill="#0a0b0a" stroke="none" />
<path d="M1858.8,228.5 L1848,265.5 L1869.6,265.5Z" fill="#0a0b0a" stroke="none" />
<path d="M1858.8,807.3 L1869.6,770.3 L1848,770.3Z" fill="#0a0b0a" stroke="none" />
<path d="M23.5,1067.5 L34.3,1030.5 L12.7,1030.5Z" fill="#0a0b0a" stroke="none" />
<path d="M23.5,1245.5 L12.7,1282.5 L34.3,1282.5Z" fill="#0a0b0a" stroke="none" />
<path d="M164,522 L164,372 Q164,346 149,331 L110.5,294 L110.5,142" stroke-width="5.5" />
<path d="M110.5,142 C112.42,141.3 117.58,139.03 122,137.8 C126.42,136.57 127.33,135.9 137,134.6 C146.67,133.3 161.17,131.65 180,130 C198.83,128.35 221.67,126.53 250,124.7 C278.33,122.87 308.33,120.85 350,119 C391.67,117.15 465,114.63 500,113.6 C535,112.57 539.83,113 560,112.8 C580.17,112.6 610.83,112.47 621,112.4 Q631.3,112.4 631.3,122 L630.5,156" stroke-width="4.4" />
<path d="M111.5,147 C113.25,146.18 117.75,143.45 122,142.1 C126.25,140.75 127.33,140.2 137,138.9 C146.67,137.6 161.17,135.95 180,134.3 C198.83,132.65 221.67,130.83 250,129 C278.33,127.17 308.33,125.15 350,123.3 C391.67,121.45 465,118.93 500,117.9 C535,116.87 539.83,117.3 560,117.1 C580.17,116.9 610.83,116.77 621,116.7 L627,117.2" stroke-width="2.4" />
<path d="M111,196 C122.5,196.38 156,197.43 180,198.3 C204,199.17 242.5,200.72 255,201.2" stroke-width="4.2" />
<path d="M111,220 C122.5,220.8 156.33,223.53 180,224.8 C203.67,226.07 240.83,227.13 253,227.6" stroke-width="4.2" />
<path d="M111,264 C122.5,265.25 156.75,269.67 180,271.5 C203.25,273.33 238.75,274.42 250.5,275" stroke-width="4.2" />
<path d="M148,327.3 H247" stroke-width="4.2" />
<path d="M243.8,522 L243.8,518 C243.3,440 247,345 252.5,272 L258.3,194 C260,170 270,158 292,156 L430,146 L500,142.6 L529,140" stroke-width="9.3"/>
<path d="M243.8,522 L243.8,518 C243.3,440 247,345 252.5,272 L258.3,194 C260,170 270,158 292,156 L430,146 L500,142.6 L529,140" stroke-width="1.1" stroke="#c8c8c8"/>
<path d="M304,522 L304,518 C303.6,440 307,350 312.8,272 L315,230 Q316.2,211 331,210 L430,204.5 L500,199.5 C560,196.5 600,194 650,182 L700,168.7 L750,155 L827,139.5" stroke-width="10.2"/>
<path d="M304,522 L304,518 C303.6,440 307,350 312.8,272 L315,230 Q316.2,211 331,210 L430,204.5 L500,199.5 C560,196.5 600,194 650,182 L700,168.7 L750,155 L827,139.5" stroke-width="1.3" stroke="#c8c8c8"/>
<path d="M269.8,518 C269.8,508.32 269.55,479.61 269.8,459.9 C270.05,440.18 270.55,419.76 271.31,399.69 C272.06,379.63 273.06,360.9 274.31,339.52 C275.57,318.14 277.56,289.5 278.82,271.43 C280.08,253.36 280.68,241.5 281.85,231.12 C283.01,220.74 283.22,215.83 285.81,209.14 C288.41,202.46 292.53,195.58 297.43,190.98 C302.33,186.39 309.89,183.58 315.2,181.59 C320.51,179.6 318.57,180.01 329.28,179.03 C339.98,178.05 362.75,176.84 379.44,175.72 C396.13,174.6 412.74,173.51 429.41,172.32 C446.08,171.14 463.12,169.7 479.47,168.62 C495.82,167.53 513.54,166.73 527.52,165.81 C541.49,164.9 551.45,164.1 563.33,163.13 C575.21,162.16 587.96,161.55 598.8,159.99 C609.64,158.44 618.47,156 628.36,153.79 C638.26,151.58 643.24,150.71 658.18,146.74 C673.13,142.77 704.04,133.94 718.04,129.97 C732.04,126 730.43,125.88 742.19,122.92 C753.95,119.97 774.43,114.88 788.6,112.23 C802.76,109.59 815.68,108.13 827.19,107.05 C838.7,105.96 847.53,105.92 857.65,105.71 C867.77,105.5 880,105.72 887.9,105.8 C895.81,105.88 902.2,106.13 905.06,106.2 L904.94,115.8 C902.14,115.8 895.86,115.42 888.1,115.8 C880.33,116.18 868.23,117.16 858.35,118.09 C848.47,119.02 839.97,119.87 828.81,121.35 C817.65,122.83 805.24,124.28 791.4,126.97 C777.57,129.65 757.38,134.63 745.81,137.48 C734.24,140.32 735.96,140.2 721.96,144.03 C707.96,147.86 676.87,156.5 661.82,160.46 C646.76,164.43 641.74,165.35 631.64,167.81 C621.53,170.27 612.36,173.3 601.2,175.21 C590.04,177.12 576.79,178.24 564.67,179.27 C552.55,180.3 542.51,180.57 528.48,181.39 C514.46,182.2 496.85,183.03 480.53,184.18 C464.22,185.33 447.25,187 430.59,188.28 C413.93,189.56 397.2,190.7 380.56,191.88 C363.91,193.06 340.68,194.51 330.72,195.37 C320.76,196.22 324.49,195.73 320.8,197.01 C317.11,198.28 311.84,200.04 308.57,203.02 C305.3,205.99 302.92,209.88 301.19,214.86 C299.45,219.83 299.15,223.26 298.15,232.88 C297.15,242.5 296.42,254.64 295.18,272.57 C293.94,290.5 291.93,319.19 290.69,340.48 C289.44,361.77 288.44,380.37 287.69,400.31 C286.95,420.24 286.45,440.49 286.2,460.1 C285.95,479.72 286.2,508.35 286.2,518 Z" fill="#0a0b0a" stroke="none" />
<path d="M900,111 C908.33,111.05 933.33,111.05 950,111.3 C966.67,111.55 975,111.25 1000,112.5 C1025,113.75 1058.33,115.83 1100,118.8 C1141.67,121.77 1210,127.28 1250,130.3 C1290,133.32 1315.21,135.03 1340,136.9 C1364.79,138.77 1388.96,140.73 1398.75,141.5 A50,50 0 0 1 1445,191.4 L1445.2,200" stroke-width="9.8" />
<path d="M1446.4,191.4 C1446.77,204.5 1447.87,242.73 1448.6,270 C1449.33,297.27 1450.07,330 1450.8,355 C1451.53,380 1452.42,400.83 1453,420 C1453.58,439.17 1454.03,453 1454.3,470 C1454.57,487 1454.55,513.33 1454.6,522" stroke-width="7.2" />
<path d="M1442.7,191.4 C1442.93,204.5 1443.67,242.73 1444.1,270 C1444.53,297.27 1444.95,330 1445.3,355 C1445.65,380 1445.98,399.5 1446.2,420 C1446.42,440.5 1446.53,468.33 1446.6,478" stroke-width="5.6" stroke-linecap="butt"/>
<path d="M832.5,147 C834.58,146.42 839.58,144.42 845,143.5 C850.42,142.58 858,141.98 865,141.5 C872,141.02 874.5,140.58 887,140.6 C899.5,140.62 921.17,141 940,141.6 C958.83,142.2 973.33,142.8 1000,144.2 C1026.67,145.6 1058.33,147.28 1100,150 C1141.67,152.72 1210,157.7 1250,160.5 C1290,163.3 1316.83,165.12 1340,166.8 C1363.17,168.48 1380.83,169.97 1389,170.6 C1404,172 1413.5,182 1414.8,198 L1418.5,355 L1420,505 L1420,522" stroke-width="5" />
<path d="M829.4,116 L832.7,146 L806,211 Q799.8,226 799.8,242 L799.8,522" stroke-width="4.4" />
<path d="M887.6,114 V141" stroke-width="4.5" />
<path d="M1391.8,146.4 L1389.7,168.6" stroke-width="4.5" />
<path d="M1417.6,196.2 L1439,194.4" stroke-width="4.5" />
<circle cx="752" cy="177.6" r="12.3" stroke-width="6.8"/>
<circle cx="752" cy="177.6" r="3.6" stroke-width="2"/>
<path d="M557,137 V126 Q557,120.5 563,120.5 H629" stroke-width="5.5" />
<path d="M559,127.2 H629" stroke-width="3.4" />
<path d="M559,133.6 H606 Q611,133.6 611,139 V141" stroke-width="3.6" />
<path d="M526,144.3 H630" stroke-width="8" />
<path d="M500,141 L527,138.6" stroke-width="2.6" />
<path d="M530,140 V167" stroke-width="4.4" />
<path d="M629.3,120 V156" stroke-width="4.2" />
<path d="M582,113 V124 M600,113 V124" stroke-width="2.4" />
<circle cx="582" cy="149.5" r="1.8" fill="#0a0b0a" stroke="none"/>
<g transform="translate(0,1033.6) scale(1,-1)">
<path d="M164,522 L164,372 Q164,346 149,331 L110.5,294 L110.5,142" stroke-width="5.5" />
<path d="M110.5,142 C112.42,141.3 117.58,139.03 122,137.8 C126.42,136.57 127.33,135.9 137,134.6 C146.67,133.3 161.17,131.65 180,130 C198.83,128.35 221.67,126.53 250,124.7 C278.33,122.87 308.33,120.85 350,119 C391.67,117.15 465,114.63 500,113.6 C535,112.57 539.83,113 560,112.8 C580.17,112.6 610.83,112.47 621,112.4 Q631.3,112.4 631.3,122 L630.5,156" stroke-width="4.4" />
<path d="M111.5,147 C113.25,146.18 117.75,143.45 122,142.1 C126.25,140.75 127.33,140.2 137,138.9 C146.67,137.6 161.17,135.95 180,134.3 C198.83,132.65 221.67,130.83 250,129 C278.33,127.17 308.33,125.15 350,123.3 C391.67,121.45 465,118.93 500,117.9 C535,116.87 539.83,117.3 560,117.1 C580.17,116.9 610.83,116.77 621,116.7 L627,117.2" stroke-width="2.4" />
<path d="M111,196 C122.5,196.38 156,197.43 180,198.3 C204,199.17 242.5,200.72 255,201.2" stroke-width="4.2" />
<path d="M111,220 C122.5,220.8 156.33,223.53 180,224.8 C203.67,226.07 240.83,227.13 253,227.6" stroke-width="4.2" />
<path d="M111,264 C122.5,265.25 156.75,269.67 180,271.5 C203.25,273.33 238.75,274.42 250.5,275" stroke-width="4.2" />
<path d="M148,327.3 H247" stroke-width="4.2" />
<path d="M243.8,522 L243.8,518 C243.3,440 247,345 252.5,272 L258.3,194 C260,170 270,158 292,156 L430,146 L500,142.6 L529,140" stroke-width="9.3"/>
<path d="M243.8,522 L243.8,518 C243.3,440 247,345 252.5,272 L258.3,194 C260,170 270,158 292,156 L430,146 L500,142.6 L529,140" stroke-width="1.1" stroke="#c8c8c8"/>
<path d="M304,522 L304,518 C303.6,440 307,350 312.8,272 L315,230 Q316.2,211 331,210 L430,204.5 L500,199.5 C560,196.5 600,194 650,182 L700,168.7 L750,155 L827,139.5" stroke-width="10.2"/>
<path d="M304,522 L304,518 C303.6,440 307,350 312.8,272 L315,230 Q316.2,211 331,210 L430,204.5 L500,199.5 C560,196.5 600,194 650,182 L700,168.7 L750,155 L827,139.5" stroke-width="1.3" stroke="#c8c8c8"/>
<path d="M269.8,518 C269.8,508.32 269.55,479.61 269.8,459.9 C270.05,440.18 270.55,419.76 271.31,399.69 C272.06,379.63 273.06,360.9 274.31,339.52 C275.57,318.14 277.56,289.5 278.82,271.43 C280.08,253.36 280.68,241.5 281.85,231.12 C283.01,220.74 283.22,215.83 285.81,209.14 C288.41,202.46 292.53,195.58 297.43,190.98 C302.33,186.39 309.89,183.58 315.2,181.59 C320.51,179.6 318.57,180.01 329.28,179.03 C339.98,178.05 362.75,176.84 379.44,175.72 C396.13,174.6 412.74,173.51 429.41,172.32 C446.08,171.14 463.12,169.7 479.47,168.62 C495.82,167.53 513.54,166.73 527.52,165.81 C541.49,164.9 551.45,164.1 563.33,163.13 C575.21,162.16 587.96,161.55 598.8,159.99 C609.64,158.44 618.47,156 628.36,153.79 C638.26,151.58 643.24,150.71 658.18,146.74 C673.13,142.77 704.04,133.94 718.04,129.97 C732.04,126 730.43,125.88 742.19,122.92 C753.95,119.97 774.43,114.88 788.6,112.23 C802.76,109.59 815.68,108.13 827.19,107.05 C838.7,105.96 847.53,105.92 857.65,105.71 C867.77,105.5 880,105.72 887.9,105.8 C895.81,105.88 902.2,106.13 905.06,106.2 L904.94,115.8 C902.14,115.8 895.86,115.42 888.1,115.8 C880.33,116.18 868.23,117.16 858.35,118.09 C848.47,119.02 839.97,119.87 828.81,121.35 C817.65,122.83 805.24,124.28 791.4,126.97 C777.57,129.65 757.38,134.63 745.81,137.48 C734.24,140.32 735.96,140.2 721.96,144.03 C707.96,147.86 676.87,156.5 661.82,160.46 C646.76,164.43 641.74,165.35 631.64,167.81 C621.53,170.27 612.36,173.3 601.2,175.21 C590.04,177.12 576.79,178.24 564.67,179.27 C552.55,180.3 542.51,180.57 528.48,181.39 C514.46,182.2 496.85,183.03 480.53,184.18 C464.22,185.33 447.25,187 430.59,188.28 C413.93,189.56 397.2,190.7 380.56,191.88 C363.91,193.06 340.68,194.51 330.72,195.37 C320.76,196.22 324.49,195.73 320.8,197.01 C317.11,198.28 311.84,200.04 308.57,203.02 C305.3,205.99 302.92,209.88 301.19,214.86 C299.45,219.83 299.15,223.26 298.15,232.88 C297.15,242.5 296.42,254.64 295.18,272.57 C293.94,290.5 291.93,319.19 290.69,340.48 C289.44,361.77 288.44,380.37 287.69,400.31 C286.95,420.24 286.45,440.49 286.2,460.1 C285.95,479.72 286.2,508.35 286.2,518 Z" fill="#0a0b0a" stroke="none" />
<path d="M900,111 C908.33,111.05 933.33,111.05 950,111.3 C966.67,111.55 975,111.25 1000,112.5 C1025,113.75 1058.33,115.83 1100,118.8 C1141.67,121.77 1210,127.28 1250,130.3 C1290,133.32 1315.21,135.03 1340,136.9 C1364.79,138.77 1388.96,140.73 1398.75,141.5 A50,50 0 0 1 1445,191.4 L1445.2,200" stroke-width="9.8" />
<path d="M1446.4,191.4 C1446.77,204.5 1447.87,242.73 1448.6,270 C1449.33,297.27 1450.07,330 1450.8,355 C1451.53,380 1452.42,400.83 1453,420 C1453.58,439.17 1454.03,453 1454.3,470 C1454.57,487 1454.55,513.33 1454.6,522" stroke-width="7.2" />
<path d="M1442.7,191.4 C1442.93,204.5 1443.67,242.73 1444.1,270 C1444.53,297.27 1444.95,330 1445.3,355 C1445.65,380 1445.98,399.5 1446.2,420 C1446.42,440.5 1446.53,468.33 1446.6,478" stroke-width="5.6" stroke-linecap="butt"/>
<path d="M832.5,147 C834.58,146.42 839.58,144.42 845,143.5 C850.42,142.58 858,141.98 865,141.5 C872,141.02 874.5,140.58 887,140.6 C899.5,140.62 921.17,141 940,141.6 C958.83,142.2 973.33,142.8 1000,144.2 C1026.67,145.6 1058.33,147.28 1100,150 C1141.67,152.72 1210,157.7 1250,160.5 C1290,163.3 1316.83,165.12 1340,166.8 C1363.17,168.48 1380.83,169.97 1389,170.6 C1404,172 1413.5,182 1414.8,198 L1418.5,355 L1420,505 L1420,522" stroke-width="5" />
<path d="M829.4,116 L832.7,146 L806,211 Q799.8,226 799.8,242 L799.8,522" stroke-width="4.4" />
<path d="M887.6,114 V141" stroke-width="4.5" />
<path d="M1391.8,146.4 L1389.7,168.6" stroke-width="4.5" />
<path d="M1417.6,196.2 L1439,194.4" stroke-width="4.5" />
<circle cx="752" cy="177.6" r="12.3" stroke-width="6.8"/>
<circle cx="752" cy="177.6" r="3.6" stroke-width="2"/>
<path d="M557,137 V126 Q557,120.5 563,120.5 H629" stroke-width="5.5" />
<path d="M559,127.2 H629" stroke-width="3.4" />
<path d="M559,133.6 H606 Q611,133.6 611,139 V141" stroke-width="3.6" />
<path d="M526,144.3 H630" stroke-width="8" />
<path d="M500,141 L527,138.6" stroke-width="2.6" />
<path d="M530,140 V167" stroke-width="4.4" />
<path d="M629.3,120 V156" stroke-width="4.2" />
<path d="M582,113 V124 M600,113 V124" stroke-width="2.4" />
<circle cx="582" cy="149.5" r="1.8" fill="#0a0b0a" stroke="none"/>
</g>
<path d="M164,517.3 H240" stroke-width="4" />
<path d="M250,374.9 H272 M250,387.8 H272 M250,394.2 H272 M249,420.3 H272 M249,426.8 H272 M248.5,439.9 H272" stroke-width="3.9" stroke-linecap="butt"/>
<path d="M271.6,373 V442" stroke-width="5" stroke-linecap="butt"/>
<path d="M255.5,278.5 H272 M255,290.5 H272 M254.5,297.5 H272 M253,323.9 H272 M252.5,331 H272 M252,342.8 H272" stroke-width="3.8" stroke-linecap="butt"/>
<path d="M271.7,276.6 V344.7" stroke-width="4.2" stroke-linecap="butt"/>
<path d="M273,288.3 H280 M273,331.8 H277" stroke-width="2.8" stroke-linecap="butt"/>
<rect x="1420.4" y="463.6" width="22" height="107" rx="11" ry="11" fill="#0a0b0a" stroke="none"/>
<path d="M1428,478 V556 M1435.3,478 V556" stroke="#fff" stroke-width="1.7" stroke-linecap="butt"/>
<path d="M1442.4,480.5 H1457.6 M1442.4,553.4 H1457.6" stroke-width="7" stroke-linecap="butt"/>
<path d="M1623.6,128 C1623.92,127.33 1624.52,125.18 1625.5,124 C1626.48,122.82 1627.58,122.07 1629.5,120.9 C1631.42,119.73 1634.25,118.1 1637,117 C1639.75,115.9 1641.75,115.13 1646,114.3 C1650.25,113.47 1655.17,112.55 1662.5,112 C1669.83,111.45 1679.92,111.27 1690,111 C1700.08,110.73 1713.83,110.78 1723,110.4 C1732.17,110.02 1739.33,109.23 1745,108.7 C1750.67,108.17 1755,107.45 1757,107.2" stroke-width="5.2" />
<path d="M1624.9,127 V236" stroke-width="6" />
<path d="M1626.7,250 V522" stroke-width="3.6" />
<path d="M1628.5,126.4 L1750,123" stroke-width="4.8" />
<path d="M1628.5,136.3 L1751.6,134.6" stroke-width="4.8" />
<path d="M1628.5,145.2 L1756,144" stroke-width="5.6" />
<path d="M1628,127 L1630,145" stroke-width="2.4" />
<path d="M1748.5,109.6 L1758,105 L1762.5,104.6 L1766.3,107 L1767.3,112 L1767.2,150 L1770.3,183 L1765,183 L1760.6,161 L1756.2,145.5 L1754.5,133 L1756,120 L1753.5,112Z" fill="#0a0b0a" stroke="none" />
<path d="M1750.5,111 L1751.5,133" stroke-width="2.6" />
<path d="M1766,150 C1766.37,155.5 1767.6,172 1768.2,183 C1768.8,194 1769.25,204.67 1769.6,216 C1769.95,227.33 1770.1,237 1770.3,251 C1770.5,265 1770.77,275.17 1770.8,300 C1770.83,324.83 1770.58,363 1770.5,400 C1770.42,437 1770.33,501.67 1770.3,522" stroke-width="4.8" />
<path d="M1630.6,147.5 C1630.27,149.25 1629.2,153.92 1628.6,158 C1628,162.08 1627.27,169.67 1627,172" stroke-width="3.6" />
<path d="M1625.6,226 C1626,254 1639,268.5 1655,272 L1746,287.8 Q1756.3,290 1756.5,300 L1757.5,400 L1758,522" stroke-width="4.4" />
<path d="M1746,287.8 L1767,291.2" stroke-width="4.2" />
<path d="M1759,294.5 L1766.8,299.5 L1760.8,326" stroke-width="3.4" />
<path d="M1764,303 L1761.5,322" stroke-width="3" />
<path d="M1761.3,326 V522" stroke-width="2.4" />
<path d="M1761.3,331.8 H1768 M1761.3,365.8 H1768" stroke-width="2.4" />
<circle cx="1705.4" cy="225.4" r="17.05" stroke-width="5.5"/>
<path d="M1622.5,209.5 C1620.58,211.5 1614.42,217.67 1611,221.5 C1607.58,225.33 1604.42,229.17 1602,232.5 C1599.58,235.83 1597.83,238.58 1596.5,241.5 C1595.17,244.42 1594.42,246.58 1594,250 C1593.58,253.42 1594,260 1594,262 L1594.4,522" stroke-width="4.6" />
<path d="M1604,231 C1603,232.5 1599.33,237 1598,240 C1596.67,243 1596.33,247.5 1596,249" stroke-width="5" />
<path d="M1599.3,246 Q1601,262 1601,274 L1600.8,522" stroke-width="3.6" />
<path d="M1594,272.3 H1601" stroke-width="2.8" />
<path d="M1632.8,266 V522" stroke-width="3" />
<path d="M1773,243 V265.5" stroke-width="3.6" />
<rect x="1740.3" y="347.7" width="10.6" height="51.6" rx="3" stroke-width="7"/>
<g transform="translate(0,1035.2) scale(1,-1)">
<path d="M1623.6,128 C1623.92,127.33 1624.52,125.18 1625.5,124 C1626.48,122.82 1627.58,122.07 1629.5,120.9 C1631.42,119.73 1634.25,118.1 1637,117 C1639.75,115.9 1641.75,115.13 1646,114.3 C1650.25,113.47 1655.17,112.55 1662.5,112 C1669.83,111.45 1679.92,111.27 1690,111 C1700.08,110.73 1713.83,110.78 1723,110.4 C1732.17,110.02 1739.33,109.23 1745,108.7 C1750.67,108.17 1755,107.45 1757,107.2" stroke-width="5.2" />
<path d="M1624.9,127 V236" stroke-width="6" />
<path d="M1626.7,250 V522" stroke-width="3.6" />
<path d="M1628.5,126.4 L1750,123" stroke-width="4.8" />
<path d="M1628.5,136.3 L1751.6,134.6" stroke-width="4.8" />
<path d="M1628.5,145.2 L1756,144" stroke-width="5.6" />
<path d="M1628,127 L1630,145" stroke-width="2.4" />
<path d="M1748.5,109.6 L1758,105 L1762.5,104.6 L1766.3,107 L1767.3,112 L1767.2,150 L1770.3,183 L1765,183 L1760.6,161 L1756.2,145.5 L1754.5,133 L1756,120 L1753.5,112Z" fill="#0a0b0a" stroke="none" />
<path d="M1750.5,111 L1751.5,133" stroke-width="2.6" />
<path d="M1766,150 C1766.37,155.5 1767.6,172 1768.2,183 C1768.8,194 1769.25,204.67 1769.6,216 C1769.95,227.33 1770.1,237 1770.3,251 C1770.5,265 1770.77,275.17 1770.8,300 C1770.83,324.83 1770.58,363 1770.5,400 C1770.42,437 1770.33,501.67 1770.3,522" stroke-width="4.8" />
<path d="M1630.6,147.5 C1630.27,149.25 1629.2,153.92 1628.6,158 C1628,162.08 1627.27,169.67 1627,172" stroke-width="3.6" />
<path d="M1625.6,226 C1626,254 1639,268.5 1655,272 L1746,287.8 Q1756.3,290 1756.5,300 L1757.5,400 L1758,522" stroke-width="4.4" />
<path d="M1746,287.8 L1767,291.2" stroke-width="4.2" />
<path d="M1759,294.5 L1766.8,299.5 L1760.8,326" stroke-width="3.4" />
<path d="M1764,303 L1761.5,322" stroke-width="3" />
<path d="M1761.3,326 V522" stroke-width="2.4" />
<path d="M1761.3,331.8 H1768 M1761.3,365.8 H1768" stroke-width="2.4" />
<circle cx="1705.4" cy="225.4" r="17.05" stroke-width="5.5"/>
<path d="M1622.5,209.5 C1620.58,211.5 1614.42,217.67 1611,221.5 C1607.58,225.33 1604.42,229.17 1602,232.5 C1599.58,235.83 1597.83,238.58 1596.5,241.5 C1595.17,244.42 1594.42,246.58 1594,250 C1593.58,253.42 1594,260 1594,262 L1594.4,522" stroke-width="4.6" />
<path d="M1604,231 C1603,232.5 1599.33,237 1598,240 C1596.67,243 1596.33,247.5 1596,249" stroke-width="5" />
<path d="M1599.3,246 Q1601,262 1601,274 L1600.8,522" stroke-width="3.6" />
<path d="M1594,272.3 H1601" stroke-width="2.8" />
<path d="M1632.8,266 V522" stroke-width="3" />
<path d="M1773,243 V265.5" stroke-width="3.6" />
<rect x="1740.3" y="347.7" width="10.6" height="51.6" rx="3" stroke-width="7"/>
</g>
<path d="M1594,517.3 H1757.5" stroke-width="4" />
<path d="M1673.2,286.6 L1651.55,299.1 L1651.55,324.1 L1673.2,336.6 L1694.85,324.1 L1694.85,299.1Z" fill="#0a0b0a" stroke="#0a0b0a" stroke-width="25.5" stroke-linejoin="round"/>
<circle cx="1673.2" cy="311.6" r="27.3" fill="#fff" stroke="none"/>
<circle cx="1673.2" cy="311.6" r="20.4" fill="#0a0b0a" stroke="none"/>
<path d="M1667.9,299.1 A13.6,13.6 0 0 0 1667.9,324.1 Z" fill="#fff" stroke="none"/>
<path d="M1671.6,284.1 V339.1 M1674.8,284.1 V339.1" stroke-width="1.7"/>
<path d="M1676.2,302.6 h3 M1675.7,314.6 h4 M1676.2,320.6 h3" stroke="#fff" stroke-width="1.6"/>
<path d="M1673.2,383.3 L1651.55,395.8 L1651.55,420.8 L1673.2,433.3 L1694.85,420.8 L1694.85,395.8Z" fill="#0a0b0a" stroke="#0a0b0a" stroke-width="25.5" stroke-linejoin="round"/>
<circle cx="1673.2" cy="408.3" r="27.3" fill="#fff" stroke="none"/>
<circle cx="1673.2" cy="408.3" r="16.7" stroke-width="7.4"/>
<path d="M1657.09,398.23 L1649.03,393.2" stroke-width="2.6"/>
<path d="M1689.98,417.22 L1698.36,421.68" stroke-width="2.6"/>
<path d="M111.5,1099.5 L109.5,1245.5" stroke-width="5.5" />
<path d="M111.5,1100.3 C126.25,1100.3 171.08,1100.3 200,1100.3 C228.92,1100.3 265,1100.12 285,1100.3 C305,1100.48 309.17,1100.82 320,1101.4 C330.83,1101.98 340,1102.85 350,1103.8 C360,1104.75 370,1106.07 380,1107.1 C390,1108.13 400,1109 410,1110 C420,1111 430,1112.03 440,1113.1 C450,1114.17 460,1115.32 470,1116.4 C480,1117.48 486.67,1118.5 500,1119.6 C513.33,1120.7 533.33,1121.8 550,1123 C566.67,1124.2 583.33,1125.43 600,1126.8 C616.67,1128.17 636.67,1129.9 650,1131.2 C663.33,1132.5 671.67,1133.47 680,1134.6 C688.33,1135.73 691.67,1136.02 700,1138 C708.33,1139.98 720,1143.5 730,1146.5 C740,1149.5 750,1152.83 760,1156 C770,1159.17 780,1162.42 790,1165.5 C800,1168.58 811.67,1172.25 820,1174.5 C828.33,1176.75 834,1177.82 840,1179 C846,1180.18 850.17,1180.85 856,1181.6 C861.83,1182.35 869,1183.05 875,1183.5 C881,1183.95 881.17,1184.07 892,1184.3 C902.83,1184.53 922,1184.73 940,1184.9 C958,1185.07 963.33,1184.92 1000,1185.3 C1036.67,1185.68 1087.5,1186.37 1160,1187.2 C1232.5,1188.03 1389.17,1189.78 1435,1190.3" stroke-width="4.8" />
<path d="M113,1108 C115,1107.58 118.83,1106.07 125,1105.5 C131.17,1104.93 137.5,1104.75 150,1104.6 C162.5,1104.45 177.5,1104.6 200,1104.6 C222.5,1104.6 265,1104.43 285,1104.6 C305,1104.77 309.17,1104.93 320,1105.6 C330.83,1106.27 340,1107.53 350,1108.6 C360,1109.67 365,1110.18 380,1112 C395,1113.82 420,1117.08 440,1119.5 C460,1121.92 481.67,1124.22 500,1126.5 C518.33,1128.78 536.17,1131.18 550,1133.2 C563.83,1135.22 577.5,1137.7 583,1138.6" stroke-width="3" />
<path d="M141.3,1101 V1236.5" stroke-width="4.4" />
<path d="M254,1101 V1231" stroke-width="4.4" />
<path d="M109.5,1245.5 H255 Q260,1245.5 262,1242.5 Q264.5,1238.6 270,1238.2 L500,1237.3 L1452,1237.5" stroke-width="7" />
<path d="M112,1229.3 C123.33,1228.92 156.17,1227.68 180,1227 C203.83,1226.32 218.33,1225.65 255,1225.2 C291.67,1224.75 359.17,1224.4 400,1224.3 C440.83,1224.2 475.83,1224.32 500,1224.6 C524.17,1224.88 532,1225.5 545,1226 C558,1226.5 572.5,1227.33 578,1227.6" stroke-width="3.8" />
<path d="M112,1237.2 C123.33,1236.63 156.17,1234.9 180,1233.8 C203.83,1232.7 218.33,1231.27 255,1230.6 C291.67,1229.93 349.17,1229.9 400,1229.8 C450.83,1229.7 533.33,1229.97 560,1230" stroke-width="3" />
<path d="M285.8,1098.4 L296,1076" stroke-width="4.6" />
<path d="M296.8,1078 Q298.8,1072.2 306,1072.2 L660,1072.2 C664.17,1072.17 677.5,1072.23 685,1073 C692.5,1073.77 699.17,1075.38 705,1076.6 C710.83,1077.82 714.83,1078.87 720,1080.3 C725.17,1081.73 730.33,1083 736,1085.2 C741.67,1087.4 748,1090.5 754,1093.5 C760,1096.5 763,1098.68 772,1103.2 C781,1107.72 796,1114.8 808,1120.6 C820,1126.4 835,1133.85 844,1138 C853,1142.15 856,1143.3 862,1145.5 C868,1147.7 874.5,1149.78 880,1151.2 C885.5,1152.62 890,1153.27 895,1154 C900,1154.73 907.5,1155.33 910,1155.6" stroke-width="9.8"/>
<path d="M330,1072 L660,1072 C664.17,1072.17 677.5,1072.23 685,1073 C692.5,1073.77 699.17,1075.38 705,1076.6 C710.83,1077.82 714.83,1078.87 720,1080.3 C725.17,1081.73 730.33,1083 736,1085.2 C741.67,1087.4 748,1090.5 754,1093.5 C760,1096.5 763,1098.68 772,1103.2 C781,1107.72 796,1114.8 808,1120.6 C820,1126.4 835,1133.85 844,1138 C853,1142.15 856,1143.3 862,1145.5 C868,1147.7 874.5,1149.78 880,1151.2 C885.5,1152.62 890,1153.27 895,1154 C900,1154.73 907.5,1155.33 910,1155.6" stroke-width="0.7" stroke="#9a9a9a"/>
<path d="M908,1155.8 Q914,1156.8 922,1157.3 L1366,1169" stroke-width="7" />
<path d="M918,1150.6 L1357,1162.6" stroke-width="3" />
<path d="M579,1130.6 C581.17,1131.12 585.17,1132.55 592,1133.7 C598.83,1134.85 610.33,1136.28 620,1137.5 C629.67,1138.72 640,1139.82 650,1141 C660,1142.18 671.67,1143.47 680,1144.6 C688.33,1145.73 691.67,1145.85 700,1147.8 C708.33,1149.75 720,1153.3 730,1156.3 C740,1159.3 750,1162.6 760,1165.8 C770,1169 780,1172.37 790,1175.5 C800,1178.63 811.67,1182.38 820,1184.6 C828.33,1186.82 834,1187.7 840,1188.8 C846,1189.9 850.17,1190.5 856,1191.2 C861.83,1191.9 869,1192.58 875,1193 C881,1193.42 881.17,1193.55 892,1193.7 C902.83,1193.85 922,1193.85 940,1193.9 C958,1193.95 963.33,1193.72 1000,1194 C1036.67,1194.28 1085.83,1194.8 1160,1195.6 C1234.17,1196.4 1397.5,1198.27 1445,1198.8" stroke-width="4.1" />
<path d="M587,1128.9 A55.5,55.5 0 0 1 601.7,1235.1 L578.7,1235 L578.7,1233.5 A49.5,49.5 0 0 0 586.5,1135.4 Z" fill="#0a0b0a" stroke="none" />
<path d="M583,1138.6 A44.8,44.8 0 0 1 578,1228 L560,1227.4" stroke-width="3.2" />
<circle cx="580" cy="1184" r="22" stroke-width="4.5"/>
<circle cx="580" cy="1184" r="9.9" stroke-width="7.4"/>
<path d="M855,1236 L897.5,1196" stroke-width="4" />
<path d="M811,1116.4 C812.83,1115.47 818.17,1112.53 822,1110.8 C825.83,1109.07 828.33,1107.88 834,1106 C839.67,1104.12 849.33,1101.07 856,1099.5 C862.67,1097.93 866,1097.18 874,1096.6 C882,1096.02 893,1095.97 904,1096 C915,1096.03 925.33,1096.1 940,1096.8 C954.67,1097.5 975.33,1099.13 992,1100.2 C1008.67,1101.27 1022,1101.87 1040,1103.2 C1058,1104.53 1080,1106.33 1100,1108.2 C1120,1110.07 1142,1112.18 1160,1114.4 C1178,1116.62 1188.67,1118.48 1208,1121.5 C1227.33,1124.52 1256.17,1128.82 1276,1132.5 C1295.83,1136.18 1314.25,1140.2 1327,1143.6 C1339.75,1147 1346,1149.93 1352.5,1152.9 C1359,1155.87 1362.42,1159.22 1366,1161.4 C1369.58,1163.58 1372.67,1165.23 1374,1166" stroke-width="7.5" />
<path d="M838,1128 C838.83,1126.92 841,1123.73 843,1121.5 C845,1119.27 847.5,1116.72 850,1114.6 C852.5,1112.48 855.33,1110.57 858,1108.8 C860.67,1107.03 863.33,1105.42 866,1104 C868.67,1102.58 871,1101.37 874,1100.3 C877,1099.23 880.83,1098.27 884,1097.6 C887.17,1096.93 891.5,1096.52 893,1096.3" stroke-width="6.4" />
<path d="M915,1151.5 C916,1150.33 918.67,1147.25 921,1144.5 C923.33,1141.75 926,1138.25 929,1135 C932,1131.75 935.33,1128.25 939,1125 C942.67,1121.75 946.5,1118.42 951,1115.5 C955.5,1112.58 960.5,1109.62 966,1107.5 C971.5,1105.38 977.67,1103.88 984,1102.8 C990.33,1101.72 1000.67,1101.3 1004,1101" stroke-width="6.4" />
<path d="M1044.8,1156 C1046,1153.8 1049.47,1146.38 1052,1142.8 C1054.53,1139.22 1057,1137.1 1060,1134.5 C1063,1131.9 1065.33,1130.22 1070,1127.2 C1074.67,1124.18 1082,1119.17 1088,1116.4 C1094,1113.63 1099.67,1111.45 1106,1110.6 C1112.33,1109.75 1122.67,1111.18 1126,1111.3" stroke-width="6.4" />
<path d="M1167.2,1159 C1168.33,1157.42 1171.45,1152.5 1174,1149.5 C1176.55,1146.5 1179.83,1143.5 1182.5,1141 C1185.17,1138.5 1187.17,1136.48 1190,1134.5 C1192.83,1132.52 1195.08,1130.78 1199.5,1129.1 C1203.92,1127.42 1211.08,1124.92 1216.5,1124.4 C1221.92,1123.88 1229.42,1125.73 1232,1126" stroke-width="6.4" />
<path d="M1372,1167 H1396" stroke-width="4.6" />
<path d="M1394.5,1164.8 L1398,1164.9 L1455,1193.4 L1457.3,1197.5 L1452,1200.6 L1446.5,1199.4 L1434.6,1190.6 L1397.5,1169.8 Z" fill="#0a0b0a" stroke="none" />
<path d="M1410,1172 Q1412,1168 1414.8,1168.4 Q1417,1169 1418,1176 Z M1419.5,1176.5 Q1421.6,1171.6 1425,1172 Q1428,1173 1431.5,1182.5 Z" fill="#0a0b0a" stroke="none" />
<path d="M1454.3,1198 L1456,1231 Q1456.4,1239.8 1448,1240" stroke-width="6.2" />
<path d="M1393,1200.5 V1239" stroke-width="4.4" />
<path d="M1443,1200 L1446.6,1238.5" stroke-width="3" />
</g>
</g>
<text x="783.8" y="46.8" font-size="63.4" text-anchor="middle">550</text>
<text transform="translate(47,515.8) rotate(-90)" font-size="63.4" text-anchor="middle">334</text>
<text transform="translate(1879.2,517.3) rotate(-90)" font-size="63.4" letter-spacing="1.3" text-anchor="middle">240</text>
<text transform="translate(47,1156) rotate(-90)" font-size="63.4" text-anchor="middle">72</text>
</svg></body></html>
